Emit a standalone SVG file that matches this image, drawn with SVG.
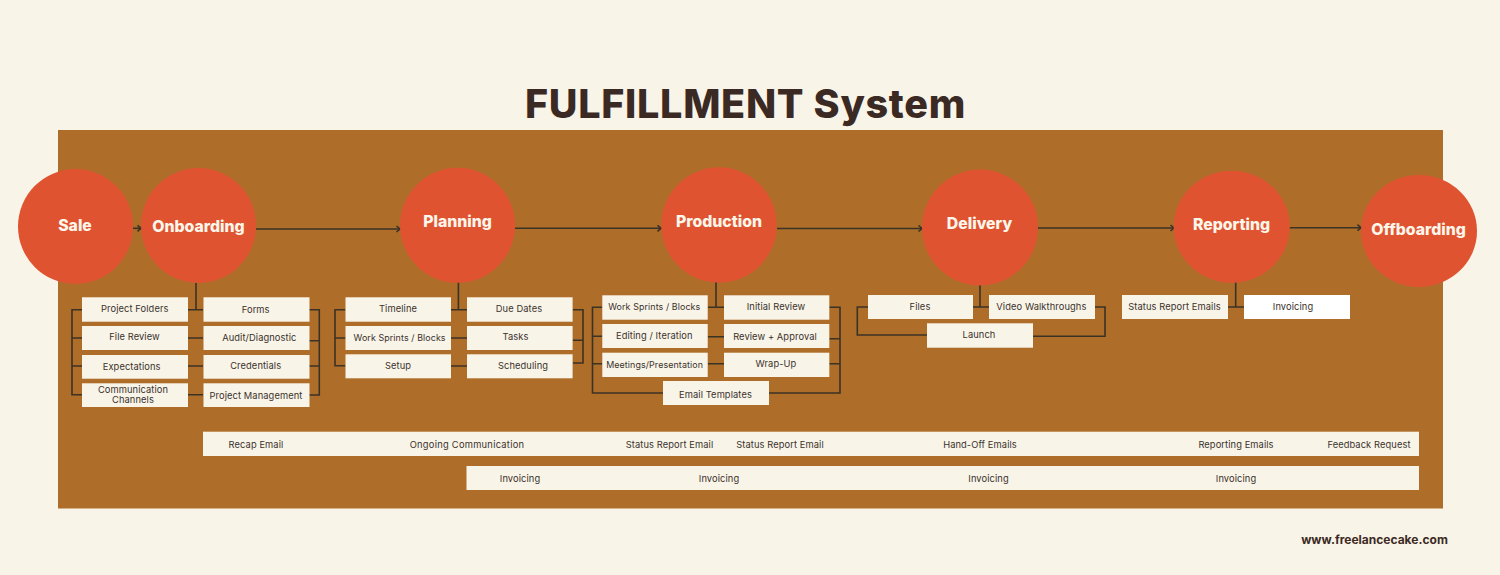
<svg xmlns="http://www.w3.org/2000/svg" width="1500" height="575" viewBox="0 0 1500 575">
<defs>
<style>
.title{font-family:Inter,"Liberation Sans",sans-serif;font-weight:800;font-size:39.5px;letter-spacing:.7px;fill:#3b2a24;text-anchor:middle}
.web{font-family:Inter,"Liberation Sans",sans-serif;font-weight:700;font-size:12px;fill:#3b2a24;text-anchor:middle}
.stage{fill:#e05330}
.stage-t{font-family:Inter,"Liberation Sans",sans-serif;font-weight:800;font-size:15.8px;fill:#fdf6ea;text-anchor:middle}
.box{fill:#f9f4e8}
.white{fill:#fff}
.t{font-family:Inter,"Liberation Sans",sans-serif;font-size:9.3px;letter-spacing:.1px;fill:#3a322c;text-anchor:middle}
.s{font-size:8.9px}
.wide{letter-spacing:.28px}
.ln{fill:none;stroke:#3b3226;stroke-width:1.6}
.ar{fill:none;stroke:#3b3226;stroke-width:1.6;marker-end:url(#a)}
</style>
<marker id="a" markerUnits="userSpaceOnUse" markerWidth="8" markerHeight="8" refX="6.5" refY="4" orient="auto"><path d="M3 1L6.5 4L3 7" fill="none" stroke="#3b3226" stroke-width="1.6"/></marker>
</defs>
<rect width="1500" height="575" fill="#f9f4e8"/>
<text class="title" x="745.500" y="118">FULFILLMENT System</text>
<rect x="58" y="130" width="1385" height="378.500" fill="#ae6e29"/>
<g id="connectors">
<path class="ar" d="M133 228.300H141"/><path class="ar" d="M256 229H400"/><path class="ar" d="M515 228.300H661"/><path class="ar" d="M777 228.500H922"/><path class="ar" d="M1038 228H1174"/><path class="ar" d="M1289.600 227.700H1361"/>
<path class="ln" d="M196 283V309.700M82 309.700H72V394.700H82M72 338H82M72 366H82M188 309.700H203M188 338H203M188 366H203M188 394.700H203M309 309.700H319.300V395H309M309 340.700H319.300M309 366H319.300"/>
<path class="ln" d="M458.400 282V309.700M345.500 309.700H335V365.700H345.500M335 338H345.500M451 309.700H467M451 338H467M451 366H467M572.600 309.700H583V363H572.600M572.600 340.300H583"/>
<path class="ln" d="M716 282V307.300M602.300 307.300H592.500V393H663M592.500 336.300H602.300M592.500 363.700H602.300M707.700 307.300H724M707.700 336.700H724M707.700 363.700H724M829.300 307.300H840V393H769M829.300 338.700H840M829.300 363.700H840"/>
<path class="ln" d="M980 285V307M868 307H857.300V335H927M973 307H989M1095 307H1105V336.300H1033"/>
<path class="ln" d="M1235.700 282V307M1228 307H1244"/>
</g>
<g id="sale"><circle class="stage" cx="75.500" cy="226.500" r="57.500"/><text class="stage-t" x="75" y="231">Sale</text></g>
<g id="onboarding"><circle class="stage" cx="198.500" cy="225.500" r="57.500"/><text class="stage-t" x="198.500" y="232">Onboarding</text></g>
<g id="planning"><circle class="stage" cx="457.500" cy="225.300" r="57.500"/><text class="stage-t" x="457.500" y="227">Planning</text></g>
<g id="production"><circle class="stage" cx="719" cy="225" r="57.700"/><text class="stage-t" x="719" y="227">Production</text></g>
<g id="delivery"><ellipse class="stage" cx="980" cy="227.500" rx="58" ry="58"/><text class="stage-t" x="979.500" y="228.500">Delivery</text></g>
<g id="reporting"><ellipse class="stage" cx="1231.700" cy="226.700" rx="58" ry="56"/><text class="stage-t" x="1231.600" y="229.500">Reporting</text></g>
<g id="offboarding"><ellipse class="stage" cx="1419" cy="231" rx="58" ry="56"/><text class="stage-t" x="1418.600" y="234.700">Offboarding</text></g>
<g id="n-project-folders"><rect class="box" x="82" y="297.300" width="106" height="24.400"/><text class="t" x="134.800" y="312.200">Project Folders</text></g>
<g id="n-forms"><rect class="box" x="203.500" y="297.300" width="106" height="24.400"/><text class="t" x="255.700" y="312.500">Forms</text></g>
<g id="n-file-review"><rect class="box" x="82" y="326" width="106" height="24"/><text class="t" x="134.500" y="340.200">File Review</text></g>
<g id="n-audit"><rect class="box" x="203.500" y="326" width="106" height="24"/><text class="t" x="259.300" y="341.200">Audit/Diagnostic</text></g>
<g id="n-expectations"><rect class="box" x="82" y="355" width="106" height="23.700"/><text class="t" x="131.700" y="370.200">Expectations</text></g>
<g id="n-credentials"><rect class="box" x="203.500" y="355" width="106" height="23.700"/><text class="t" x="255.700" y="369.200">Credentials</text></g>
<g id="n-communication"><rect class="box" x="82" y="383.300" width="106" height="23.700"/><text class="t" x="133" y="393.400">Communication</text><text class="t" x="133" y="403.200">Channels</text></g>
<g id="n-project-management"><rect class="box" x="203.500" y="383.300" width="106" height="23.700"/><text class="t" x="256" y="398.500">Project Management</text></g>
<g id="n-timeline"><rect class="box" x="345.500" y="297.300" width="105.500" height="24.400"/><text class="t" x="398" y="312.200">Timeline</text></g>
<g id="n-due-dates"><rect class="box" x="467" y="297.300" width="105.600" height="24.400"/><text class="t" x="519" y="312.200">Due Dates</text></g>
<g id="n-work-sprints-1"><rect class="box" x="345.500" y="326" width="105.500" height="24"/><text class="t s" x="399.600" y="341.200">Work Sprints / Blocks</text></g>
<g id="n-tasks"><rect class="box" x="467" y="326" width="105.600" height="24"/><text class="t" x="515.500" y="340.200">Tasks</text></g>
<g id="n-setup"><rect class="box" x="345.500" y="354.300" width="105.500" height="24"/><text class="t" x="398" y="368.500">Setup</text></g>
<g id="n-scheduling"><rect class="box" x="467" y="354.300" width="105.600" height="24"/><text class="t" x="523" y="369.200">Scheduling</text></g>
<g id="n-work-sprints-2"><rect class="box" x="602.300" y="295.300" width="105.400" height="24.400"/><text class="t s" x="654.300" y="310.200">Work Sprints / Blocks</text></g>
<g id="n-initial-review"><rect class="box" x="724" y="295.300" width="105.300" height="24.400"/><text class="t" x="776" y="310.200">Initial Review</text></g>
<g id="n-editing"><rect class="box" x="602.300" y="324" width="105.400" height="24"/><text class="t" x="654.300" y="338.500">Editing / Iteration</text></g>
<g id="n-review-approval"><rect class="box" x="724" y="324" width="105.300" height="24"/><text class="t" x="775" y="339.500">Review + Approval</text></g>
<g id="n-meetings"><rect class="box" x="602.300" y="352.700" width="105.400" height="24.300"/><text class="t s" x="654.600" y="368.200">Meetings/Presentation</text></g>
<g id="n-wrap-up"><rect class="box" x="724" y="352.700" width="105.300" height="24.300"/><text class="t" x="776" y="367.200">Wrap-Up</text></g>
<g id="n-email-templates"><rect class="box" x="663" y="381" width="106" height="24"/><text class="t" x="715.500" y="397.500">Email Templates</text></g>
<g id="n-files"><rect class="box" x="868" y="295" width="105" height="24"/><text class="t" x="920" y="310.200">Files</text></g>
<g id="n-video"><rect class="box" x="989" y="295" width="106" height="24"/><text class="t" x="1041.400" y="310.200">Video Walkthroughs</text></g>
<g id="n-launch"><rect class="box" x="927" y="323.300" width="106" height="24.400"/><text class="t" x="979" y="338.200">Launch</text></g>
<g id="n-status-report"><rect class="box" x="1122" y="295" width="106" height="24"/><text class="t" x="1174.500" y="310.200">Status Report Emails</text></g>
<g id="n-invoicing"><rect class="white" x="1244" y="295" width="106" height="24"/><text class="t" x="1293" y="310.200">Invoicing</text></g>
<g id="bar-communication"><rect class="box" x="203" y="431.700" width="1216" height="24.300"/>
<text class="t" x="256" y="447.500">Recap Email</text><text class="t wide" x="467" y="447.500">Ongoing Communication</text><text class="t" x="669.500" y="447.500">Status Report Email</text><text class="t" x="780" y="447.500">Status Report Email</text><text class="t" x="980" y="447.500">Hand-Off Emails</text><text class="t" x="1236" y="447.500">Reporting Emails</text><text class="t" x="1369" y="447.500">Feedback Request</text></g>
<g id="bar-invoicing"><rect class="box" x="466.500" y="466" width="952.500" height="24"/>
<text class="t" x="520" y="481.500">Invoicing</text><text class="t" x="719" y="481.500">Invoicing</text><text class="t" x="988.500" y="481.500">Invoicing</text><text class="t" x="1236" y="481.500">Invoicing</text></g>
<text class="web" x="1374.500" y="544">www.freelancecake.com</text>
</svg>
